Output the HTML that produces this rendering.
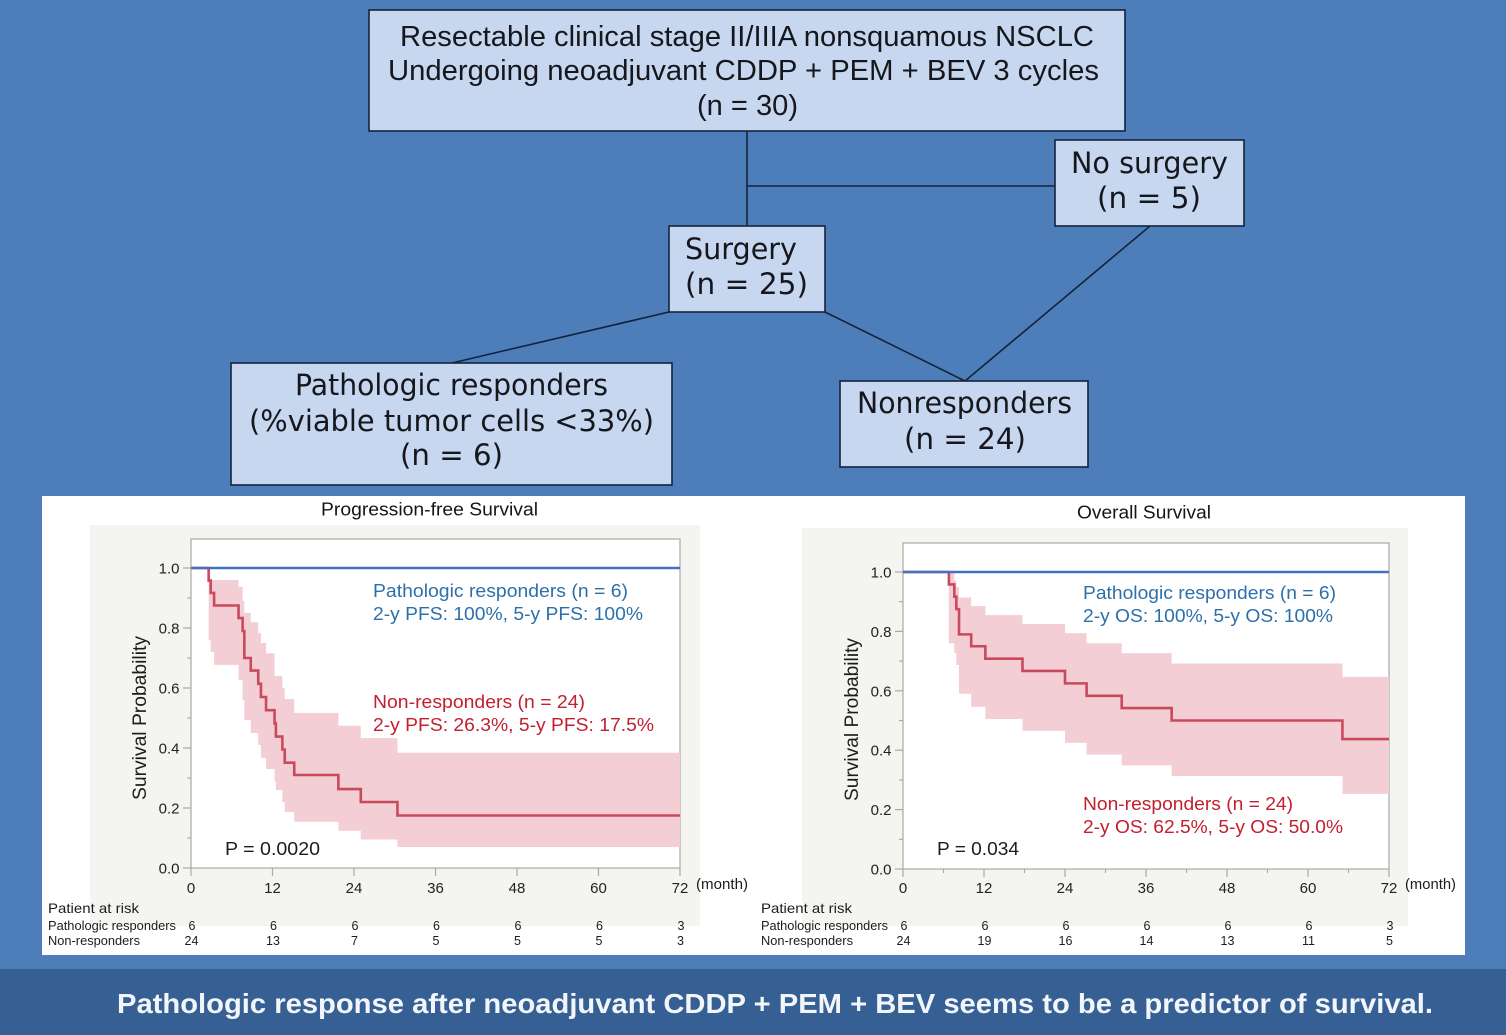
<!DOCTYPE html>
<html lang="en">
<head>
<meta charset="utf-8">
<title>Pathologic response and survival</title>
<style>
html,body{margin:0;padding:0;width:1506px;height:1035px;overflow:hidden;background:#4d7eb9}
svg{display:block;position:absolute;left:0;top:0}
text{font-family:"Liberation Sans",sans-serif}
.flowA{font-family:"Liberation Sans",sans-serif;font-size:29px;fill:#15171c}
.flowB{font-family:"DejaVu Sans",sans-serif;font-size:29px;fill:#15171c}
.box{fill:#c6d7ef;stroke:#14233c;stroke-width:1.6}
.conn{stroke:#14233c;stroke-width:1.6;fill:none}
.ttl{font-size:18px;fill:#151515}
.note{font-size:18.5px}
.blue{fill:#2c70ab}
.red{fill:#c3202f}
.dark{fill:#1c1c1c}
</style>
</head>
<body>
<svg id="page" xmlns="http://www.w3.org/2000/svg" width="1506" height="1035" viewBox="0 0 1506 1035">
  <rect x="0" y="0" width="1506" height="1035" fill="#4d7eb9"/>

  <g>
    <line class="conn" x1="747" y1="131" x2="747" y2="226"/>
    <line class="conn" x1="747" y1="186" x2="1055" y2="186"/>
    <line class="conn" x1="669" y1="312" x2="452" y2="363"/>
    <line class="conn" x1="825" y1="312" x2="965" y2="381"/>
    <line class="conn" x1="1150" y1="226" x2="965" y2="381"/>
  </g>

  <g>
    <rect class="box" x="369" y="10" width="756" height="121"/>
    <text class="flowA" x="400" y="46" textLength="694" lengthAdjust="spacingAndGlyphs">Resectable clinical stage II/IIIA nonsquamous NSCLC</text>
    <text class="flowA" x="388" y="80" textLength="711" lengthAdjust="spacingAndGlyphs">Undergoing neoadjuvant CDDP + PEM + BEV 3 cycles</text>
    <text class="flowA" x="697" y="115" textLength="101" lengthAdjust="spacingAndGlyphs">(n = 30)</text>
  </g>
  <g>
    <rect class="box" x="1055" y="140" width="189" height="86"/>
    <text class="flowB" x="1071" y="173" textLength="157" lengthAdjust="spacingAndGlyphs">No surgery</text>
    <text class="flowB" x="1097" y="208" textLength="104" lengthAdjust="spacingAndGlyphs">(n = 5)</text>
  </g>
  <g>
    <rect class="box" x="669" y="226" width="156" height="86"/>
    <text class="flowB" x="685" y="259" textLength="112" lengthAdjust="spacingAndGlyphs">Surgery</text>
    <text class="flowB" x="685" y="294" textLength="123" lengthAdjust="spacingAndGlyphs">(n = 25)</text>
  </g>
  <g>
    <rect class="box" x="231" y="363" width="441" height="122"/>
    <text class="flowB" x="295" y="395" textLength="313" lengthAdjust="spacingAndGlyphs">Pathologic responders</text>
    <text class="flowB" x="249" y="431" textLength="405" lengthAdjust="spacingAndGlyphs">(%viable tumor cells &lt;33%)</text>
    <text class="flowB" x="400" y="465" textLength="103" lengthAdjust="spacingAndGlyphs">(n = 6)</text>
  </g>
  <g>
    <rect class="box" x="840" y="381" width="248" height="86"/>
    <text class="flowB" x="857" y="413" textLength="215" lengthAdjust="spacingAndGlyphs">Nonresponders</text>
    <text class="flowB" x="904" y="449" textLength="122" lengthAdjust="spacingAndGlyphs">(n = 24)</text>
  </g>

  <rect x="42" y="496" width="1423" height="459" fill="#ffffff"/>
  <rect x="90" y="525" width="610" height="401" fill="#f4f4f0"/>
  <rect x="802" y="528" width="606" height="398" fill="#f4f4f0"/>

  <g id="pfs-chart">
    <text class="ttl" x="321" y="515.5" textLength="217" lengthAdjust="spacingAndGlyphs">Progression-free Survival</text>
  </g>
  <g id="os-chart">
    <text class="ttl" x="1077" y="518.5" textLength="134" lengthAdjust="spacingAndGlyphs">Overall Survival</text>
  </g>

  <g>
    <text class="dark" font-size="19" transform="translate(146 800) rotate(-90)" textLength="164" lengthAdjust="spacingAndGlyphs">Survival Probability</text>
    <text class="note blue" x="373" y="597" textLength="255" lengthAdjust="spacingAndGlyphs">Pathologic responders (n = 6)</text>
    <text class="note blue" x="373" y="620" textLength="270" lengthAdjust="spacingAndGlyphs">2-y PFS: 100%, 5-y PFS: 100%</text>
    <text class="note red" x="373" y="708" textLength="212" lengthAdjust="spacingAndGlyphs">Non-responders (n = 24)</text>
    <text class="note red" x="373" y="731" textLength="281" lengthAdjust="spacingAndGlyphs">2-y PFS: 26.3%, 5-y PFS: 17.5%</text>
    <text class="note dark" x="225" y="855" textLength="95" lengthAdjust="spacingAndGlyphs">P = 0.0020</text>
    <text class="dark" font-size="14.5" x="696" y="889" textLength="52" lengthAdjust="spacingAndGlyphs">(month)</text>
    <text class="dark" font-size="14" x="48" y="913" textLength="91" lengthAdjust="spacingAndGlyphs">Patient at risk</text>
    <text class="dark" font-size="12.5" x="48" y="930" textLength="128" lengthAdjust="spacingAndGlyphs">Pathologic responders</text>
    <text class="dark" font-size="12.5" x="48" y="945" textLength="92" lengthAdjust="spacingAndGlyphs">Non-responders</text>
  </g>
  <g>
    <text class="dark" font-size="19" transform="translate(858 801) rotate(-90)" textLength="163" lengthAdjust="spacingAndGlyphs">Survival Probability</text>
    <text class="note blue" x="1083" y="599" textLength="253" lengthAdjust="spacingAndGlyphs">Pathologic responders (n = 6)</text>
    <text class="note blue" x="1083" y="622" textLength="250" lengthAdjust="spacingAndGlyphs">2-y OS: 100%, 5-y OS: 100%</text>
    <text class="note red" x="1083" y="810" textLength="210" lengthAdjust="spacingAndGlyphs">Non-responders (n = 24)</text>
    <text class="note red" x="1083" y="833" textLength="260" lengthAdjust="spacingAndGlyphs">2-y OS: 62.5%, 5-y OS: 50.0%</text>
    <text class="note dark" x="937" y="855" textLength="82" lengthAdjust="spacingAndGlyphs">P = 0.034</text>
    <text class="dark" font-size="14.5" x="1405" y="889" textLength="51" lengthAdjust="spacingAndGlyphs">(month)</text>
    <text class="dark" font-size="14" x="761" y="913" textLength="91" lengthAdjust="spacingAndGlyphs">Patient at risk</text>
    <text class="dark" font-size="12.5" x="761" y="930" textLength="127" lengthAdjust="spacingAndGlyphs">Pathologic responders</text>
    <text class="dark" font-size="12.5" x="761" y="945" textLength="92" lengthAdjust="spacingAndGlyphs">Non-responders</text>
  </g>

  <rect x="0" y="969" width="1506" height="66" fill="#365f93"/>
  <text x="117" y="1013" font-size="27.5" font-weight="700" fill="#f2f6fb" textLength="1316" lengthAdjust="spacingAndGlyphs">Pathologic response after neoadjuvant CDDP + PEM + BEV seems to be a predictor of survival.</text>
</svg>

<script>
// Shared axis values
const monthTicks = [0, 12, 24, 36, 48, 60, 72];
const monthTickLabels = ["0", "12", "24", "36", "48", "60", "72"];
const probTicks = [0, 0.2, 0.4, 0.6, 0.8, 1.0];
const probTickLabels = ["0.0", "0.2", "0.4", "0.6", "0.8", "1.0"];
const probMinorTicks = [0.1, 0.3, 0.5, 0.7, 0.9];
const osMonthMinorTicks = [6, 18, 30, 42, 54, 66];
const pfsMonthMinorTicks = [];

// Progression-free survival, non-responders
const pfsTimes = [0, 2.6, 2.9, 3.4, 7.0, 7.6, 7.85, 8.8, 9.9, 10.3, 11.05, 12.3, 12.5, 13.45, 13.8, 15.2, 21.7, 25, 30.4];
const pfsSurvival = [1, 0.958, 0.917, 0.875, 0.833, 0.79, 0.70, 0.658, 0.614, 0.57, 0.526, 0.482, 0.438, 0.395, 0.351, 0.31, 0.263, 0.22, 0.175];
const pfsUpper = [1, 0.96, 0.96, 0.96, 0.937, 0.89, 0.85, 0.819, 0.783, 0.75, 0.716, 0.64, 0.64, 0.60, 0.563, 0.517, 0.474, 0.433, 0.384];
const pfsLower = [1, 0.76, 0.72, 0.677, 0.627, 0.56, 0.493, 0.45, 0.41, 0.367, 0.33, 0.29, 0.26, 0.22, 0.187, 0.154, 0.124, 0.095, 0.07];
const pfsResponderTimes = [0, 72];
const pfsResponderSurvival = [1, 1];
const pfsRiskResponders = [6, 6, 6, 6, 6, 6, 3];
const pfsRiskNonResponders = [24, 13, 7, 5, 5, 5, 3];

// Overall survival, non-responders
const osTimes = [0, 6.8, 7.6, 7.9, 8.3, 10.1, 12.2, 17.7, 24, 27.2, 32.4, 39.8, 65.1];
const osSurvival = [1, 0.958, 0.917, 0.875, 0.79, 0.75, 0.708, 0.667, 0.625, 0.583, 0.542, 0.50, 0.4375];
const osUpper = [1, 1, 0.97, 0.95, 0.914, 0.885, 0.855, 0.825, 0.794, 0.76, 0.727, 0.692, 0.647];
const osLower = [1, 0.76, 0.727, 0.687, 0.59, 0.546, 0.505, 0.465, 0.425, 0.385, 0.349, 0.313, 0.253];
const osResponderTimes = [0, 72];
const osResponderSurvival = [1, 1];
const osRiskResponders = [6, 6, 6, 6, 6, 6, 3];
const osRiskNonResponders = [24, 19, 16, 14, 13, 11, 5];

const NS = "http://www.w3.org/2000/svg";

function make(parent, tag, attrs, content) {
  const el = document.createElementNS(NS, tag);
  Object.keys(attrs).forEach(function (k) { el.setAttribute(k, attrs[k]); });
  if (content !== undefined) el.textContent = content;
  parent.appendChild(el);
  return el;
}

function stepPoints(times, values, endTime, xf, yf) {
  const pts = [];
  for (let i = 0; i < times.length; i++) {
    if (i > 0) pts.push([xf(times[i]), yf(values[i - 1])]);
    pts.push([xf(times[i]), yf(values[i])]);
  }
  pts.push([xf(endTime), yf(values[values.length - 1])]);
  return pts;
}

function drawChart(cfg) {
  const root = document.getElementById(cfg.id);
  const xScale = function (m) { return cfg.x0 + (m / 72) * (cfg.x1 - cfg.x0); };
  const yScale = function (p) { return cfg.y0 - p * (cfg.y0 - cfg.y1); };
  const axis = "#a9a9a6";

  const plot = make(root, "rect", { x: cfg.x0, y: cfg.top, width: cfg.x1 - cfg.x0, height: cfg.y0 - cfg.top, fill: "#ffffff", stroke: axis, "stroke-width": 1.2 });
  
  

  const upperPts = stepPoints(cfg.times, cfg.upper, 72, xScale, yScale);
  const lowerPts = stepPoints(cfg.times, cfg.lower, 72, xScale, yScale);
  const bandPts = upperPts.concat(lowerPts.slice().reverse());
  const band = make(root, "polygon", { points: bandPts.map(function (p) { return p.join(","); }).join(" "), fill: "#f3ced4" });
  
  

  const nrPts = stepPoints(cfg.times, cfg.survival, 72, xScale, yScale);
  const nrLine = make(root, "polyline", { points: nrPts.map(function (p) { return p.join(","); }).join(" "), fill: "none", stroke: "#c9495d", "stroke-width": 2.6, "stroke-linejoin": "miter" });
  
  

  const respPts = stepPoints(cfg.respTimes, cfg.respSurvival, 72, xScale, yScale);
  const respLine = make(root, "polyline", { points: respPts.map(function (p) { return p.join(","); }).join(" "), fill: "none", stroke: "#4470c4", "stroke-width": 2.6 });
  
  

  probTicks.forEach(function (p, i) {
    const tick = make(root, "line", { x1: cfg.x0 - 8, x2: cfg.x0, y1: yScale(p), y2: yScale(p), stroke: axis, "stroke-width": 1.2 });
    
    
    const label = make(root, "text", { x: cfg.x0 - 11.5, y: yScale(p) + 5.5, "text-anchor": "end", "font-size": 15, fill: "#222" }, probTickLabels[i]);
    
    
  });
  probMinorTicks.forEach(function (p) {
    const tick = make(root, "line", { x1: cfg.x0 - 4, x2: cfg.x0, y1: yScale(p), y2: yScale(p), stroke: axis, "stroke-width": 1.1 });
    
    
  });
  monthTicks.forEach(function (m, i) {
    const tick = make(root, "line", { x1: xScale(m), x2: xScale(m), y1: cfg.y0, y2: cfg.y0 + 8, stroke: axis, "stroke-width": 1.2 });
    
    
    const label = make(root, "text", { x: xScale(m), y: 893, "text-anchor": "middle", "font-size": 15, fill: "#222" }, monthTickLabels[i]);
    
    
    const riskA = make(root, "text", { x: xScale(m) + 1, y: 930, "text-anchor": "middle", "font-size": 12.5, fill: "#1c1c1c" }, cfg.riskA[i]);
    
    
    const riskB = make(root, "text", { x: xScale(m) + 0.5, y: 945, "text-anchor": "middle", "font-size": 12.5, fill: "#1c1c1c" }, cfg.riskB[i]);
    
    
  });
  cfg.minorMonths.forEach(function (m) {
    const tick = make(root, "line", { x1: xScale(m), x2: xScale(m), y1: cfg.y0, y2: cfg.y0 + 4, stroke: axis, "stroke-width": 1.1 });
    
    
  });
}

drawChart({
  id: "pfs-chart", x0: 191, x1: 680, y0: 868, y1: 568, top: 539,
  times: pfsTimes, survival: pfsSurvival, upper: pfsUpper, lower: pfsLower,
  respTimes: pfsResponderTimes, respSurvival: pfsResponderSurvival,
  riskA: pfsRiskResponders, riskB: pfsRiskNonResponders, minorMonths: pfsMonthMinorTicks
});
drawChart({
  id: "os-chart", x0: 903, x1: 1389, y0: 869, y1: 572, top: 543,
  times: osTimes, survival: osSurvival, upper: osUpper, lower: osLower,
  respTimes: osResponderTimes, respSurvival: osResponderSurvival,
  riskA: osRiskResponders, riskB: osRiskNonResponders, minorMonths: osMonthMinorTicks
});
</script>
</body>
</html>
